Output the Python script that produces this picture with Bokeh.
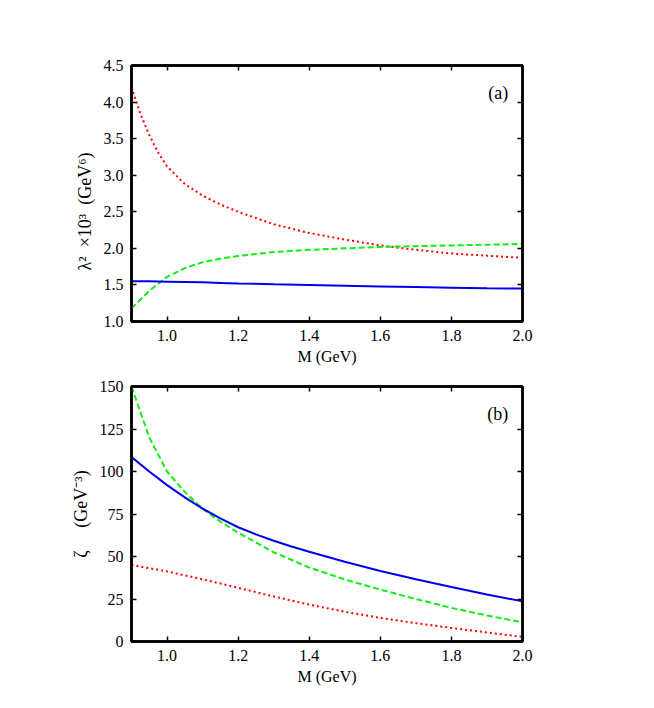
from bokeh.plotting import figure
from bokeh.layouts import column
from bokeh.models import LinearAxis, FixedTicker, PrintfTickFormatter, Label, Range1d
from bokeh.embed import file_html
from bokeh.resources import INLINE

# ---- data: panel (a) ----
m_red_a = [0.90, 0.925, 0.95, 0.975, 1.00, 1.05, 1.10, 1.15, 1.20, 1.30, 1.40, 1.50, 1.60, 1.70, 1.80, 1.90, 2.00]
red_a = [4.20, 3.84, 3.55, 3.31, 3.12, 2.88, 2.72, 2.60, 2.50, 2.33, 2.21, 2.12, 2.04, 1.98, 1.93, 1.90, 1.87]
m_a = [0.90, 0.95, 1.00, 1.05, 1.10, 1.15, 1.20, 1.30, 1.40, 1.50, 1.60, 1.70, 1.80, 1.90, 2.00]
green_a = [1.18, 1.42, 1.61, 1.73, 1.81, 1.86, 1.895, 1.95, 1.98, 2.00, 2.02, 2.03, 2.04, 2.05, 2.06]
blue_a = [1.55, 1.55, 1.545, 1.54, 1.535, 1.528, 1.521, 1.51, 1.50, 1.49, 1.48, 1.471, 1.463, 1.456, 1.45]

# ---- data: panel (b) ----
m_b = [0.90, 0.95, 1.00, 1.05, 1.10, 1.15, 1.20, 1.30, 1.40, 1.50, 1.60, 1.70, 1.80, 1.90, 2.00]
green_b = [150.0, 120.0, 100.0, 88.0, 78.0, 70.5, 64.0, 52.5, 43.5, 36.5, 30.5, 25.0, 19.8, 15.3, 11.3]
m_blue_b = [0.90, 0.95, 1.00, 1.05, 1.10, 1.15, 1.20, 1.25, 1.30, 1.35, 1.40, 1.50, 1.60, 1.70, 1.80, 1.90, 2.00]
blue_b = [108.5, 100.0, 92.0, 84.8, 78.2, 72.4, 67.2, 63.0, 59.3, 55.9, 52.8, 46.9, 41.5, 36.6, 32.0, 27.7, 23.6]
m_red_b = [0.90, 1.00, 1.10, 1.20, 1.30, 1.40, 1.50, 1.60, 1.70, 1.80, 1.90, 2.00]
red_b = [45.0, 41.2, 36.6, 31.6, 26.5, 21.7, 17.5, 13.9, 10.8, 8.0, 5.3, 2.7]

x_ticks = [1.0, 1.2, 1.4, 1.6, 1.8, 2.0]
ya_ticks = [1.0, 1.5, 2.0, 2.5, 3.0, 3.5, 4.0, 4.5]
yb_ticks = [0, 25, 50, 75, 100, 125, 150]

NB = "\u00a0"
ylabel_a = "\u03bb\u00b2" + NB * 2 + "\u00d710\u00b3" + NB * 2 + "(GeV\u2076)" + NB * 8
ylabel_b = "\u03b6" + NB * 5 + "(GeV\u207b\u00b3)"

FONT = "'Liberation Serif', 'Times New Roman', serif"
BLUE = "#0000ee"
GREEN = "#11ee11"
RED = "#ff0000"


def style_axis(ax, show_labels=True):
    ax.axis_line_color = "black"
    ax.axis_line_width = 2.5
    ax.major_tick_in = 5
    ax.major_tick_out = 0
    ax.major_tick_line_width = 1.5
    ax.minor_tick_line_color = None
    ax.major_label_text_font = FONT
    ax.major_label_text_font_size = "16px"
    ax.major_label_text_color = "black" if show_labels else None
    ax.axis_label_text_font = FONT
    ax.axis_label_text_font_size = "16px"
    ax.axis_label_text_font_style = "normal"
    ax.axis_label_text_color = "black"


def make_panel(ymin, ymax, yticks, yfmt, ylabel, tag, tag_y, top, frame_h, bottom):
    p = figure(width=648, height=top + frame_h + bottom, output_backend="svg",
               toolbar_location=None, x_range=Range1d(0.9, 2.0),
               y_range=Range1d(ymin, ymax),
               min_border_left=131, min_border_right=126,
               min_border_top=top, min_border_bottom=bottom)
    p.xgrid.visible = False
    p.ygrid.visible = False
    p.outline_line_color = "black"
    p.outline_line_width = 2.5
    p.background_fill_color = "white"
    p.border_fill_color = "white"

    xa = p.xaxis[0]
    xa.ticker = FixedTicker(ticks=x_ticks)
    xa.formatter = PrintfTickFormatter(format="%.1f")
    xa.axis_label = "M (GeV)"
    style_axis(xa)
    xa.major_label_standoff = 8
    xa.axis_label_standoff = 4

    ya = p.yaxis[0]
    ya.ticker = FixedTicker(ticks=yticks)
    ya.formatter = PrintfTickFormatter(format=yfmt)
    ya.axis_label = ylabel
    style_axis(ya)
    ya.axis_label_text_font_size = "18px"
    ya.major_label_standoff = 8
    ya.axis_label_standoff = 6

    top_ax = LinearAxis(ticker=FixedTicker(ticks=x_ticks))
    style_axis(top_ax, show_labels=False)
    p.add_layout(top_ax, "above")
    right_ax = LinearAxis(ticker=FixedTicker(ticks=yticks))
    style_axis(right_ax, show_labels=False)
    p.add_layout(right_ax, "right")

    p.add_layout(Label(x=1.96, y=tag_y, text=tag, text_font=FONT,
                       text_font_size="18px", text_align="right",
                       text_baseline="middle", text_color="black"))
    return p


p1 = make_panel(1.0, 4.5, ya_ticks, "%.1f", ylabel_a, "(a)", 4.12, 65, 257, 45)
p1.line(m_red_a, red_a, color=RED, line_width=2, line_dash="2 3")
p1.line(m_a, green_a, color=GREEN, line_width=2, line_dash="6 3")
p1.line(m_a, blue_a, color=BLUE, line_width=2)

p2 = make_panel(0, 150, yb_ticks, "%d", ylabel_b, "(b)", 133.6, 19, 256, 45)
p2.line(m_red_b, red_b, color=RED, line_width=2, line_dash="2 3")
p2.line(m_b, green_b, color=GREEN, line_width=2, line_dash="6 3")
p2.line(m_blue_b, blue_b, color=BLUE, line_width=2)

layout = column(p1, p2, spacing=0)
open("out.html", "w").write(file_html(layout, INLINE))
